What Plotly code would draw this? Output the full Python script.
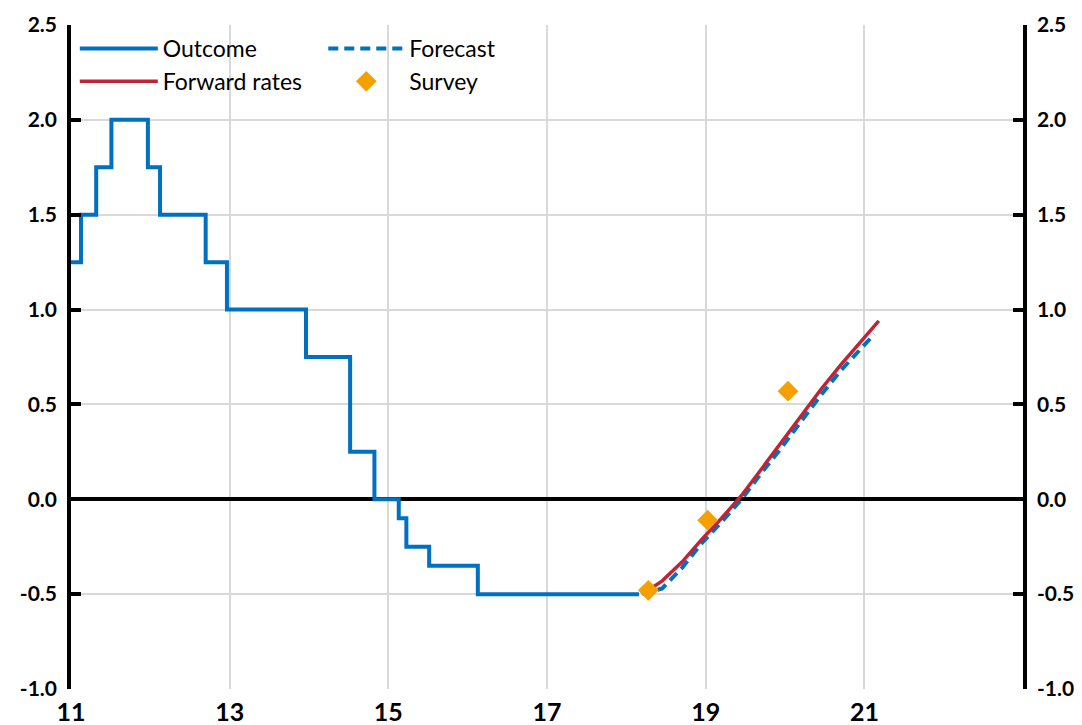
import plotly.graph_objects as go

# Outcome (policy rate), step changes
outcome_dates = ["2011-01-01", "2011-02-16", "2011-04-27", "2011-07-06", "2011-12-21",
                 "2012-02-15", "2012-09-12", "2012-12-19", "2013-12-18", "2014-07-09",
                 "2014-10-29", "2015-02-18", "2015-03-25", "2015-07-08", "2016-02-17",
                 "2018-02-28"]
outcome_vals = [1.25, 1.50, 1.75, 2.00, 1.75, 1.50, 1.25, 1.00, 0.75, 0.25,
                0.00, -0.10, -0.25, -0.35, -0.50, -0.50]

# Quarterly paths
forward_dates = ["2018-03-15", "2018-06-15", "2018-09-15", "2018-12-15", "2019-03-15",
                 "2019-06-15", "2019-09-15", "2019-12-15", "2020-03-15", "2020-06-15",
                 "2020-09-15", "2020-12-15", "2021-03-08"]
forward_vals = [-0.50, -0.43, -0.33, -0.21, -0.10, 0.02, 0.16, 0.30, 0.44, 0.58, 0.71, 0.83, 0.94]

forecast_dates = ["2018-03-15", "2018-06-15", "2018-09-15", "2018-12-15", "2019-03-15",
                  "2019-06-15", "2019-09-15", "2019-12-15", "2020-03-15", "2020-06-15",
                  "2020-09-15", "2020-12-15", "2021-02-15"]
forecast_vals = [-0.50, -0.47, -0.36, -0.23, -0.12, 0.00, 0.14, 0.27, 0.41, 0.55, 0.68, 0.79, 0.87]

survey_dates = ["2018-04-12", "2019-01-10", "2020-01-15"]
survey_vals = [-0.48, -0.11, 0.57]

tick_years = ["2011-01-01", "2013-01-01", "2015-01-01", "2017-01-01", "2019-01-01", "2021-01-01"]
tick_text = ["11", "13", "15", "17", "19", "21"]
y_ticks = [-1.0, -0.5, 0.0, 0.5, 1.0, 1.5, 2.0, 2.5]
y_text = ["-1.0", "-0.5", "0.0", "0.5", "1.0", "1.5", "2.0", "2.5"]

BLUE = "rgb(0,112,192)"
RED = "rgb(192,36,52)"
ORANGE = "rgb(245,160,0)"
FONT = "Lato"

fig = go.Figure()
fig.add_trace(go.Scatter(x=outcome_dates, y=outcome_vals, mode="lines", name="Outcome",
                         line=dict(color=BLUE, width=4, shape="hv"), legend="legend"))
fig.add_trace(go.Scatter(x=forecast_dates, y=forecast_vals, mode="lines", name="Forecast",
                         line=dict(color=BLUE, width=4, dash="10px,6px"), legend="legend2"))
fig.add_trace(go.Scatter(x=forward_dates, y=forward_vals, mode="lines", name="Forward rates",
                         line=dict(color=RED, width=3.5), legend="legend"))
fig.add_trace(go.Scatter(x=survey_dates, y=survey_vals, mode="markers", name="Survey",
                         marker=dict(color=ORANGE, symbol="diamond", size=16), legend="legend2"))
# invisible helper for right axis
fig.add_trace(go.Scatter(x=[tick_years[0]], y=[0], yaxis="y2", mode="markers",
                         marker=dict(opacity=0), showlegend=False, hoverinfo="skip"))

fig.update_layout(
    width=1066, height=717,
    margin=dict(l=63, r=51, t=17, b=36, autoexpand=False),
    paper_bgcolor="white", plot_bgcolor="white",
    font=dict(family=FONT, color="black"),
    xaxis=dict(type="date", range=["2011-01-01", "2023-01-01"],
               tickvals=tick_years, ticktext=tick_text,
               showgrid=True, gridcolor="#d9d9d9", gridwidth=1.5,
               showline=False, zeroline=False, ticks="", automargin=False,
               ticklabelstandoff=6,
               tickfont=dict(size=25, weight="bold")),
    yaxis=dict(range=[-1.0, 2.5], tickvals=y_ticks, ticktext=y_text,
               showgrid=True, gridcolor="#d9d9d9", gridwidth=1.5,
               zeroline=True, zerolinecolor="black", zerolinewidth=3.5,
               showline=True, linecolor="black", linewidth=3.5,
               ticks="inside", ticklen=10, tickwidth=3.5, tickcolor="black",
               automargin=False, ticklabelstandoff=6,
               tickfont=dict(size=21, weight="bold")),
    yaxis2=dict(range=[-1.0, 2.5], tickvals=y_ticks, ticktext=y_text,
                overlaying="y", side="right", showgrid=False, zeroline=False,
                showline=True, linecolor="black", linewidth=3.5,
                ticks="inside", ticklen=10, tickwidth=3.5, tickcolor="black",
                automargin=False, ticklabelstandoff=6,
                tickfont=dict(size=21, weight="bold")),
    legend=dict(x=0.004, y=0.997, xanchor="left", yanchor="top", bgcolor="rgba(0,0,0,0)",
                font=dict(size=23), tracegroupgap=0, itemwidth=78),
    legend2=dict(x=0.265, y=0.997, xanchor="left", yanchor="top", bgcolor="rgba(0,0,0,0)",
                 font=dict(size=23), tracegroupgap=0, itemwidth=76),
    showlegend=True,
)

fig.write_html("out.html")
